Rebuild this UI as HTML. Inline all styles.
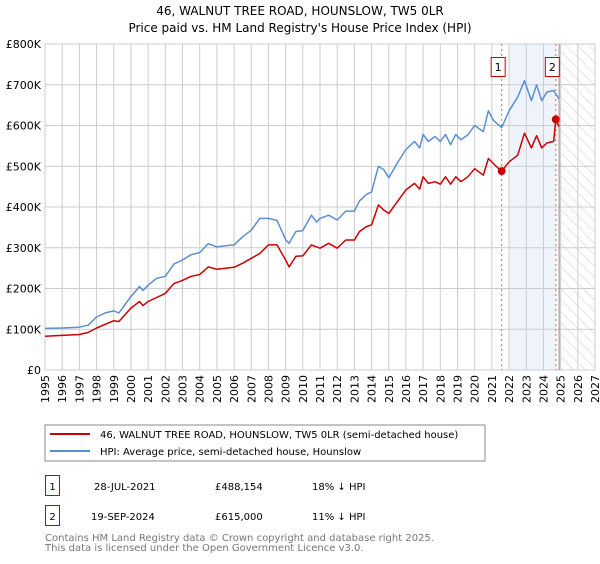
<!DOCTYPE html>
<html><head><meta charset="utf-8"><style>
body{margin:0;background:#fff;font-family:"DejaVu Sans","Liberation Sans",sans-serif;}
svg text{font-family:"DejaVu Sans","Liberation Sans",sans-serif;}
</style></head><body>
<svg id="c" width="600" height="560" viewBox="0 0 600 560" xmlns="http://www.w3.org/2000/svg">
<defs><pattern id="hatch" width="8" height="8" patternUnits="userSpaceOnUse" patternTransform="rotate(-45)"><line x1="0" y1="0" x2="0" y2="8" stroke="#ccc" stroke-width="1"/></pattern></defs>
<text x="300" y="15" text-anchor="middle" font-size="12">46, WALNUT TREE ROAD, HOUNSLOW, TW5 0LR</text>
<text x="300" y="32" text-anchor="middle" font-size="12">Price paid vs. HM Land Registry's House Price Index (HPI)</text>
<g id="plot"></g>
<rect x="45" y="425" width="440" height="36" fill="#fff" stroke="#888"/>
<line x1="50" y1="434" x2="90" y2="434" stroke="#cc0000" stroke-width="2"/>
<text x="100" y="438" font-size="10">46, WALNUT TREE ROAD, HOUNSLOW, TW5 0LR (semi-detached house)</text>
<line x1="50" y1="451" x2="90" y2="451" stroke="#5b8fd1" stroke-width="2"/>
<text x="100" y="455" font-size="10">HPI: Average price, semi-detached house, Hounslow</text>
<g font-size="10">
<rect x="45.5" y="475.5" width="14" height="20" fill="#fff" stroke="#cc0000"/>
<text x="52.5" y="490" text-anchor="middle">1</text>
<text x="94" y="490">28-JUL-2021</text>
<text x="215" y="490">£488,154</text>
<text x="312" y="490">18% ↓ HPI</text>
<rect x="45.5" y="505.5" width="14" height="20" fill="#fff" stroke="#cc0000"/>
<text x="52.5" y="520" text-anchor="middle">2</text>
<text x="91" y="520">19-SEP-2024</text>
<text x="215" y="520">£615,000</text>
<text x="312" y="520">11% ↓ HPI</text>
</g>
<text x="45" y="541" font-size="10" fill="#777">Contains HM Land Registry data © Crown copyright and database right 2025.</text>
<text x="45" y="551" font-size="10" fill="#777">This data is licensed under the Open Government Licence v3.0.</text>
</svg>
<script>
const yTicks=[0,100000,200000,300000,400000,500000,600000,700000,800000];
const yTickLabels=["£0","£100K","£200K","£300K","£400K","£500K","£600K","£700K","£800K"];
const xYears=[1995,1996,1997,1998,1999,2000,2001,2002,2003,2004,2005,2006,2007,2008,2009,2010,2011,2012,2013,2014,2015,2016,2017,2018,2019,2020,2021,2022,2023,2024,2025,2026,2027];
const hpiT=[1995,1996,1997,1997.5,1998,1998.5,1999,1999.3,2000,2000.5,2000.7,2001,2001.5,2002,2002.5,2003,2003.5,2004,2004.5,2005,2005.5,2006,2006.5,2007,2007.5,2008,2008.5,2009,2009.2,2009.6,2010,2010.5,2010.8,2011,2011.5,2012,2012.5,2013,2013.3,2013.7,2014,2014.4,2014.7,2015,2015.5,2016,2016.5,2016.8,2017,2017.3,2017.7,2018,2018.3,2018.6,2018.9,2019.2,2019.6,2020,2020.5,2020.8,2021.1,2021.57,2022,2022.5,2022.9,2023.3,2023.6,2023.9,2024.2,2024.6,2024.9];
const hpiV=[102,103,105,110,130,140,145,140,180,205,195,208,225,230,260,270,283,288,310,302,305,307,327,343,372,372,367,320,311,340,342,380,363,372,380,368,390,390,415,431,437,500,492,472,508,541,561,545,578,561,573,561,578,553,578,565,577,600,585,636,612,595,636,670,710,661,700,661,682,686,665];
const priceT=[1995,1996,1997,1997.5,1998,1999,1999.3,2000,2000.5,2000.7,2001,2002,2002.5,2003,2003.5,2004,2004.5,2005,2006,2006.5,2007,2007.5,2008,2008.5,2009,2009.2,2009.6,2010,2010.5,2011,2011.5,2012,2012.5,2013,2013.3,2013.7,2014,2014.4,2014.7,2015,2015.5,2016,2016.5,2016.8,2017,2017.3,2017.7,2018,2018.3,2018.6,2018.9,2019.2,2019.6,2020,2020.5,2020.8,2021.3,2021.57,2022,2022.5,2022.9,2023.3,2023.6,2023.9,2024.2,2024.6,2024.72,2024.9];
const priceV=[83,85,87,92,103,121,119,152,168,158,168,188,212,220,230,234,253,247,252,262,274,286,307,307,270,253,279,280,307,299,311,299,319,319,340,352,356,405,393,384,413,442,458,444,474,458,462,456,474,456,474,462,474,494,478,519,498,488,511,527,581,545,575,545,557,561,615,597];
const saleT=[2021.57,2024.72];
const saleV=[488154,615000];
const saleLabels=["1","2"];
const X0=45,X1=595,Y0=370,Y1=44;
const xs=t=>X0+(t-1995)/(2027-1995)*(X1-X0);
const ys=v=>Y0-v/800000*(Y0-Y1);
const NS="http://www.w3.org/2000/svg";
const g=document.getElementById('plot');
function mk(tag,attrs,parent){const e=document.createElementNS(NS,tag);for(const k in attrs)e.setAttribute(k,attrs[k]);(parent||g).appendChild(e);return e;}
// shading
let e=mk('rect',{x:xs(2022),y:Y1,width:xs(saleT[1])-xs(2022),height:Y0-Y1,fill:'#eef3fc'});


e=mk('rect',{x:xs(2025),y:Y1,width:X1-xs(2025),height:Y0-Y1,fill:'url(#hatch)'});


// grid
yTicks.forEach((v,i)=>{
 let l=mk('line',{x1:X0,x2:X1,y1:ys(v),y2:ys(v),stroke:'#ccc','stroke-width':1});
 
 
 let t=mk('text',{x:X0-4,y:ys(v)+4,'text-anchor':'end','font-size':'11'});
 t.textContent=yTickLabels[i];
 
 
});
xYears.forEach(yr=>{
 let l=mk('line',{x1:xs(yr),x2:xs(yr),y1:Y1,y2:Y0,stroke:'#ccc','stroke-width':1});
 
 
 let t=mk('text',{x:0,y:0,'font-size':'11','text-anchor':'end',transform:`translate(${xs(yr)+4},${Y0+5}) rotate(-90)`});
 t.textContent=yr;
 
 
});
e=mk('rect',{x:X0,y:Y1,width:X1-X0,height:Y0-Y1,fill:'none',stroke:'#ccc'});


e=mk('line',{x1:xs(2025)-1.5,x2:xs(2025)-1.5,y1:Y1,y2:Y0,stroke:'#888','stroke-width':1});


// sale dashed lines and labels
saleT.forEach((t,i)=>{
 let l=mk('line',{x1:xs(t),x2:xs(t),y1:Y1,y2:Y0,stroke:'#ff5555','stroke-width':1,'stroke-dasharray':'2,3'});
 
 
 let r=mk('rect',{x:xs(t)-10.5,y:57.5,width:14,height:19,fill:'#fff',stroke:'#cc0000'});
 
 
 let tx=mk('text',{x:xs(t)-3.5,y:71,'text-anchor':'middle','font-size':'11'});
 tx.textContent=saleLabels[i];
 
 
});
function path(T,V,color,name){
 const d=T.map((t,i)=>(i?'L':'M')+xs(t).toFixed(1)+','+ys(V[i]*1000).toFixed(1)).join('');
 const p=mk('path',{d:d,fill:'none',stroke:color,'stroke-width':1.5,'stroke-linejoin':'round'});
 
 
}
path(hpiT,hpiV,'#5b8fd1','hpi-line');
path(priceT,priceV,'#cc0000','price-paid-line');
saleT.forEach((t,i)=>{
 const c=mk('circle',{cx:xs(t),cy:ys(saleV[i]),r:4,fill:'#cc0000'});
 
 
});
</script>
</body></html>
